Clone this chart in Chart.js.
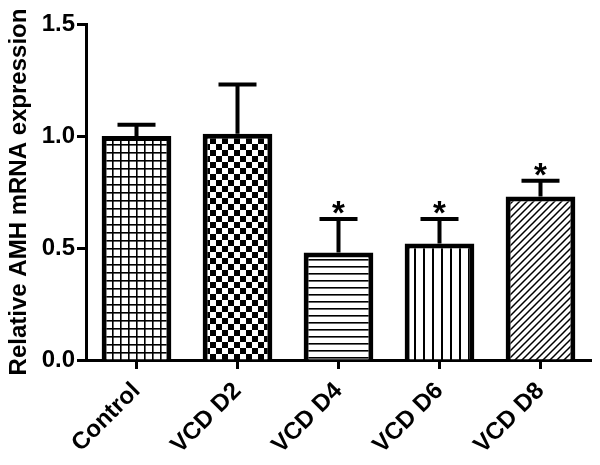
<!DOCTYPE html>
<html>
<head>
<meta charset="utf-8">
<script src="https://cdn.jsdelivr.net/npm/chart.js@4.4.1/dist/chart.umd.min.js"></script>
<style>
  html, body { margin: 0; padding: 0; background: #fff; }
  #wrap { width: 600px; height: 465px; }
</style>
</head>
<body>
<div id="wrap"><canvas id="amhChart" width="600" height="465"></canvas></div>
<script>
// data
const groups = ['Control', 'VCD D2', 'VCD D4', 'VCD D6', 'VCD D8'];
const meanExpr = [1.00, 1.01, 0.48, 0.52, 0.73];
const errUpper = [1.05, 1.23, 0.63, 0.63, 0.80];
const signif = [false, false, true, true, true];
const yTicks = [0, 0.5, 1.0, 1.5];

const FONT = "'Liberation Sans', Arial, sans-serif";

// fill patterns, one per bar
function makeTile(w, h, draw) {
    const c = document.createElement('canvas');
    c.width = w; c.height = h;
    const g = c.getContext('2d');
    g.fillStyle = '#fff';
    g.fillRect(0, 0, w, h);
    g.fillStyle = '#000';
    g.strokeStyle = '#000';
    draw(g, w, h);
    return g.createPattern(c, 'repeat');
}

const patterns = [
    makeTile(8, 8, (g) => { g.fillRect(0, 0, 8, 1.6); g.fillRect(0, 0, 1.6, 8); }),
    makeTile(12, 12, (g) => { g.fillRect(0, 0, 6, 6); g.fillRect(6, 6, 6, 6); }),
    makeTile(8, 7, (g) => { g.fillRect(0, 0, 8, 1.6); }),
    makeTile(9, 8, (g) => { g.fillRect(0, 0, 2, 8); }),
    makeTile(7, 7, (g, s) => {
        g.lineWidth = 1.5;
        g.beginPath();
        g.moveTo(-1, s + 1); g.lineTo(s + 1, -1);
        g.moveTo(-1, 1); g.lineTo(1, -1);
        g.moveTo(s - 1, s + 1); g.lineTo(s + 1, s - 1);
        g.stroke();
    })
];

// error bars (upper only) and asterisks
const errorBarPlugin = {
    id: 'errorBars',
    afterDatasetsDraw(chart) {
        const ctx = chart.ctx;
        const y = chart.scales.y;
        const meta = chart.getDatasetMeta(0);
        ctx.save();
        ctx.strokeStyle = '#000';
        ctx.fillStyle = '#000';
        ctx.lineWidth = 4;
        meta.data.forEach((bar, i) => {
            const yTop = y.getPixelForValue(meanExpr[i]);
            const yErr = y.getPixelForValue(errUpper[i]);
            ctx.beginPath();
            ctx.moveTo(bar.x, yTop);
            ctx.lineTo(bar.x, yErr);
            ctx.moveTo(bar.x - 19, yErr);
            ctx.lineTo(bar.x + 19, yErr);
            ctx.stroke();
            if (signif[i]) {
                ctx.font = 'bold 33px ' + FONT;
                ctx.textAlign = 'center';
                ctx.textBaseline = 'alphabetic';
                ctx.fillText('*', bar.x, yErr + 5);
            }
        });
        ctx.restore();
    }
};

new Chart(document.getElementById('amhChart'), {
    type: 'bar',
    data: {
        labels: groups,
        datasets: [{
            data: meanExpr,
            backgroundColor: patterns,
            borderColor: '#000',
            borderWidth: 5,
            borderSkipped: 'start',
            barPercentage: 0.69,
            categoryPercentage: 1.0
        }]
    },
    options: {
        responsive: false,
        animation: false,
        layout: { padding: { top: 24, right: 9, left: 0, bottom: 0 } },
        plugins: {
            legend: { display: false },
            tooltip: { enabled: false }
        },
        scales: {
            x: {
                offset: true,
                afterFit: (s) => { s.height = 105; },
                border: { display: true, color: '#000', width: 3 },
                grid: { display: true, offset: false, drawOnChartArea: false, drawTicks: true, tickLength: 9, tickWidth: 3, tickColor: '#000' },
                ticks: {
                    color: '#000',
                    font: { family: FONT, size: 24, weight: 'bold' },
                    minRotation: 45,
                    maxRotation: 45,
                    padding: 8,
                    autoSkip: false
                }
            },
            y: {
                min: 0,
                max: 1.5,
                afterFit: (s) => { s.width = 86; },
                afterBuildTicks: (s) => { s.ticks = yTicks.map(v => ({ value: v })); },
                border: { display: true, color: '#000', width: 3 },
                grid: { display: true, drawOnChartArea: false, drawTicks: true, tickLength: 9, tickWidth: 3, tickColor: '#000' },
                ticks: {
                    color: '#000',
                    font: { family: FONT, size: 24, weight: 'bold' },
                    padding: 2,
                    callback: (v) => Number(v).toFixed(1)
                },
                title: {
                    display: true,
                    text: 'Relative AMH mRNA expression',
                    color: '#000',
                    font: { family: FONT, size: 24, weight: 'bold' },
                    padding: { top: 5, bottom: 0 }
                }
            }
        }
    },
    plugins: [errorBarPlugin]
});
</script>
</body>
</html>
